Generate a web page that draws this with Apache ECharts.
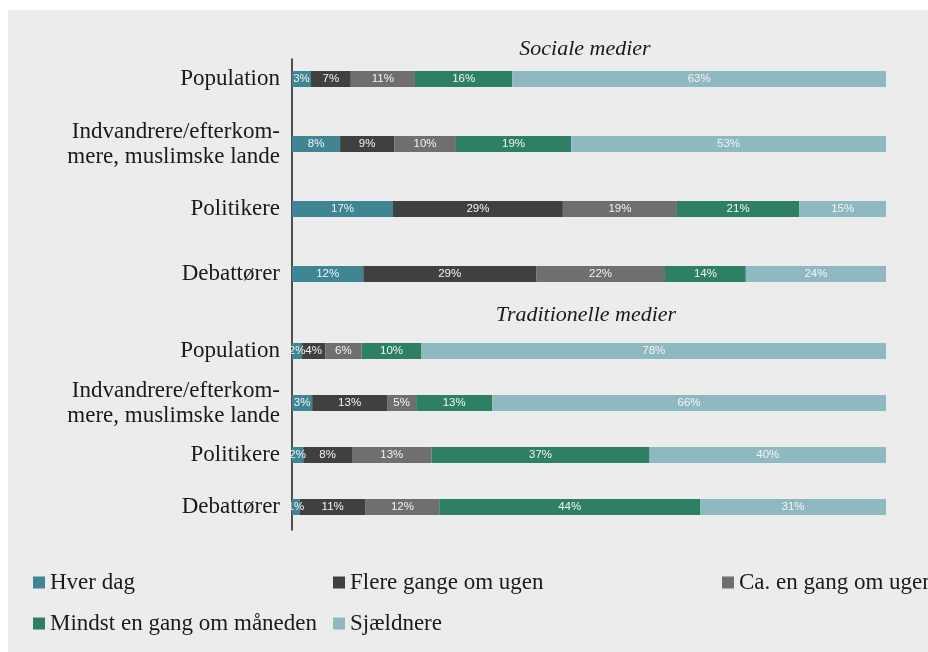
<!DOCTYPE html>
<html>
<head>
<meta charset="utf-8">
<script src="https://cdn.jsdelivr.net/npm/echarts@6/dist/echarts.min.js"></script>
<style>
  html, body { margin: 0; padding: 0; background: #ffffff; }
  #panel { position: absolute; left: 8px; top: 10px; width: 920px; height: 642px; background: #ececec; }
  #chart { position: absolute; left: 0; top: 0; width: 928px; height: 652px; }
</style>
</head>
<body>
<div id="panel"></div>
<div id="chart"></div>
<script>
// ---- Data ----
const categories = ['Population', 'Indvandrere/efterkom-\nmere, muslimske lande', 'Politikere', 'Debattører'];
const seriesNames = ['Hver dag', 'Flere gange om ugen', 'Ca. en gang om ugen', 'Mindst en gang om måneden', 'Sjældnere'];
const groupTitles = ['Sociale medier', 'Traditionelle medier'];

// Sociale medier (percent)
const socialHverDag   = [3.2, 8.1, 17.0, 12.0];
const socialFlere     = [6.7, 9.1, 28.6, 29.1];
const socialCaEn      = [10.8, 10.4, 19.2, 21.7];
const socialMindst    = [16.4, 19.4, 20.6, 13.6];
const socialSjaeldnere= [62.9, 53.0, 14.6, 23.6];

// Traditionelle medier (percent)
const tradHverDag     = [1.7, 3.4, 1.9, 1.3];
const tradFlere       = [3.9, 12.6, 8.2, 11.1];
const tradCaEn        = [6.1, 4.9, 13.4, 12.4];
const tradMindst      = [10.1, 12.8, 36.7, 43.9];
const tradSjaeldnere  = [78.2, 66.3, 39.8, 31.3];

const colors = ['#3f8594', '#404040', '#6f6f6f', '#2d8062', '#8fb9c0'];

const socialData = [socialHverDag, socialFlere, socialCaEn, socialMindst, socialSjaeldnere];
const tradData = [tradHverDag, tradFlere, tradCaEn, tradMindst, tradSjaeldnere];

const serif = '"Liberation Serif", "DejaVu Serif", serif';

function makeSeries(dataSets, idx) {
  return dataSets.map((d, i) => ({
    name: seriesNames[i],
    type: 'bar',
    stack: 'g' + idx,
    xAxisIndex: idx,
    yAxisIndex: idx,
    barWidth: 16,
    data: d,
    itemStyle: { color: colors[i] },
    label: {
      show: true,
      position: 'inside',
      color: '#f4f4f4',
      fontFamily: '"Liberation Sans", Arial, sans-serif',
      fontSize: 11.5,
      formatter: p => Math.round(p.value) + '%'
    },
    emphasis: { disabled: true },
    animation: false
  }));
}

const catAxis = (gi) => ({
  type: 'category',
  gridIndex: gi,
  data: categories,
  inverse: true,
  axisLine: { show: false },
  axisTick: { show: false },
  axisLabel: {
    margin: 12,
    color: '#1a1a1a',
    fontFamily: serif,
    fontSize: 23,
    lineHeight: 25,
    align: 'right'
  }
});

const valAxis = (gi) => ({ type: 'value', gridIndex: gi, min: 0, max: 100, show: false });

const legendText = { fontFamily: serif, fontSize: 23, color: '#1a1a1a' };

const chart = echarts.init(document.getElementById('chart'), null, { renderer: 'canvas' });
chart.setOption({
  backgroundColor: 'transparent',
  animation: false,
  color: colors,
  title: [
    { text: groupTitles[0], left: 580, top: 33, textAlign: 'center',
      textStyle: { fontFamily: serif, fontStyle: 'italic', fontWeight: 'normal', fontSize: 22, color: '#1a1a1a' } },
    { text: groupTitles[1], left: 581, top: 299, textAlign: 'center',
      textStyle: { fontFamily: serif, fontStyle: 'italic', fontWeight: 'normal', fontSize: 22, color: '#1a1a1a' } }
  ],
  grid: [
    { left: 292, right: 42, top: 46.5, height: 260 },
    { left: 292, right: 42, top: 325, height: 208 },
    { left: 292, width: 1, top: 59, bottom: 122 }
  ],
  xAxis: [valAxis(0), valAxis(1), { type: 'value', gridIndex: 2, show: false }],
  yAxis: [catAxis(0), catAxis(1), {
    type: 'value', gridIndex: 2, min: 0, max: 1,
    axisLine: { show: true, lineStyle: { color: '#1a1a1a', width: 1.5 } },
    axisTick: { show: false }, axisLabel: { show: false }, splitLine: { show: false }
  }],
  legend: [
    { data: [seriesNames[0], seriesNames[3]], left: 33, top: 571, padding: 0, orient: 'vertical', itemGap: 18,
      icon: 'rect', itemWidth: 12, itemHeight: 12, selectedMode: false, textStyle: legendText },
    { data: [seriesNames[1], seriesNames[4]], left: 333, top: 571, padding: 0, orient: 'vertical', itemGap: 18,
      icon: 'rect', itemWidth: 12, itemHeight: 12, selectedMode: false, textStyle: legendText },
    { data: [seriesNames[2]], left: 722, top: 571, padding: 0, orient: 'vertical',
      icon: 'rect', itemWidth: 12, itemHeight: 12, selectedMode: false, textStyle: legendText }
  ],
  series: [...makeSeries(socialData, 0), ...makeSeries(tradData, 1)]
});
</script>
</body>
</html>
